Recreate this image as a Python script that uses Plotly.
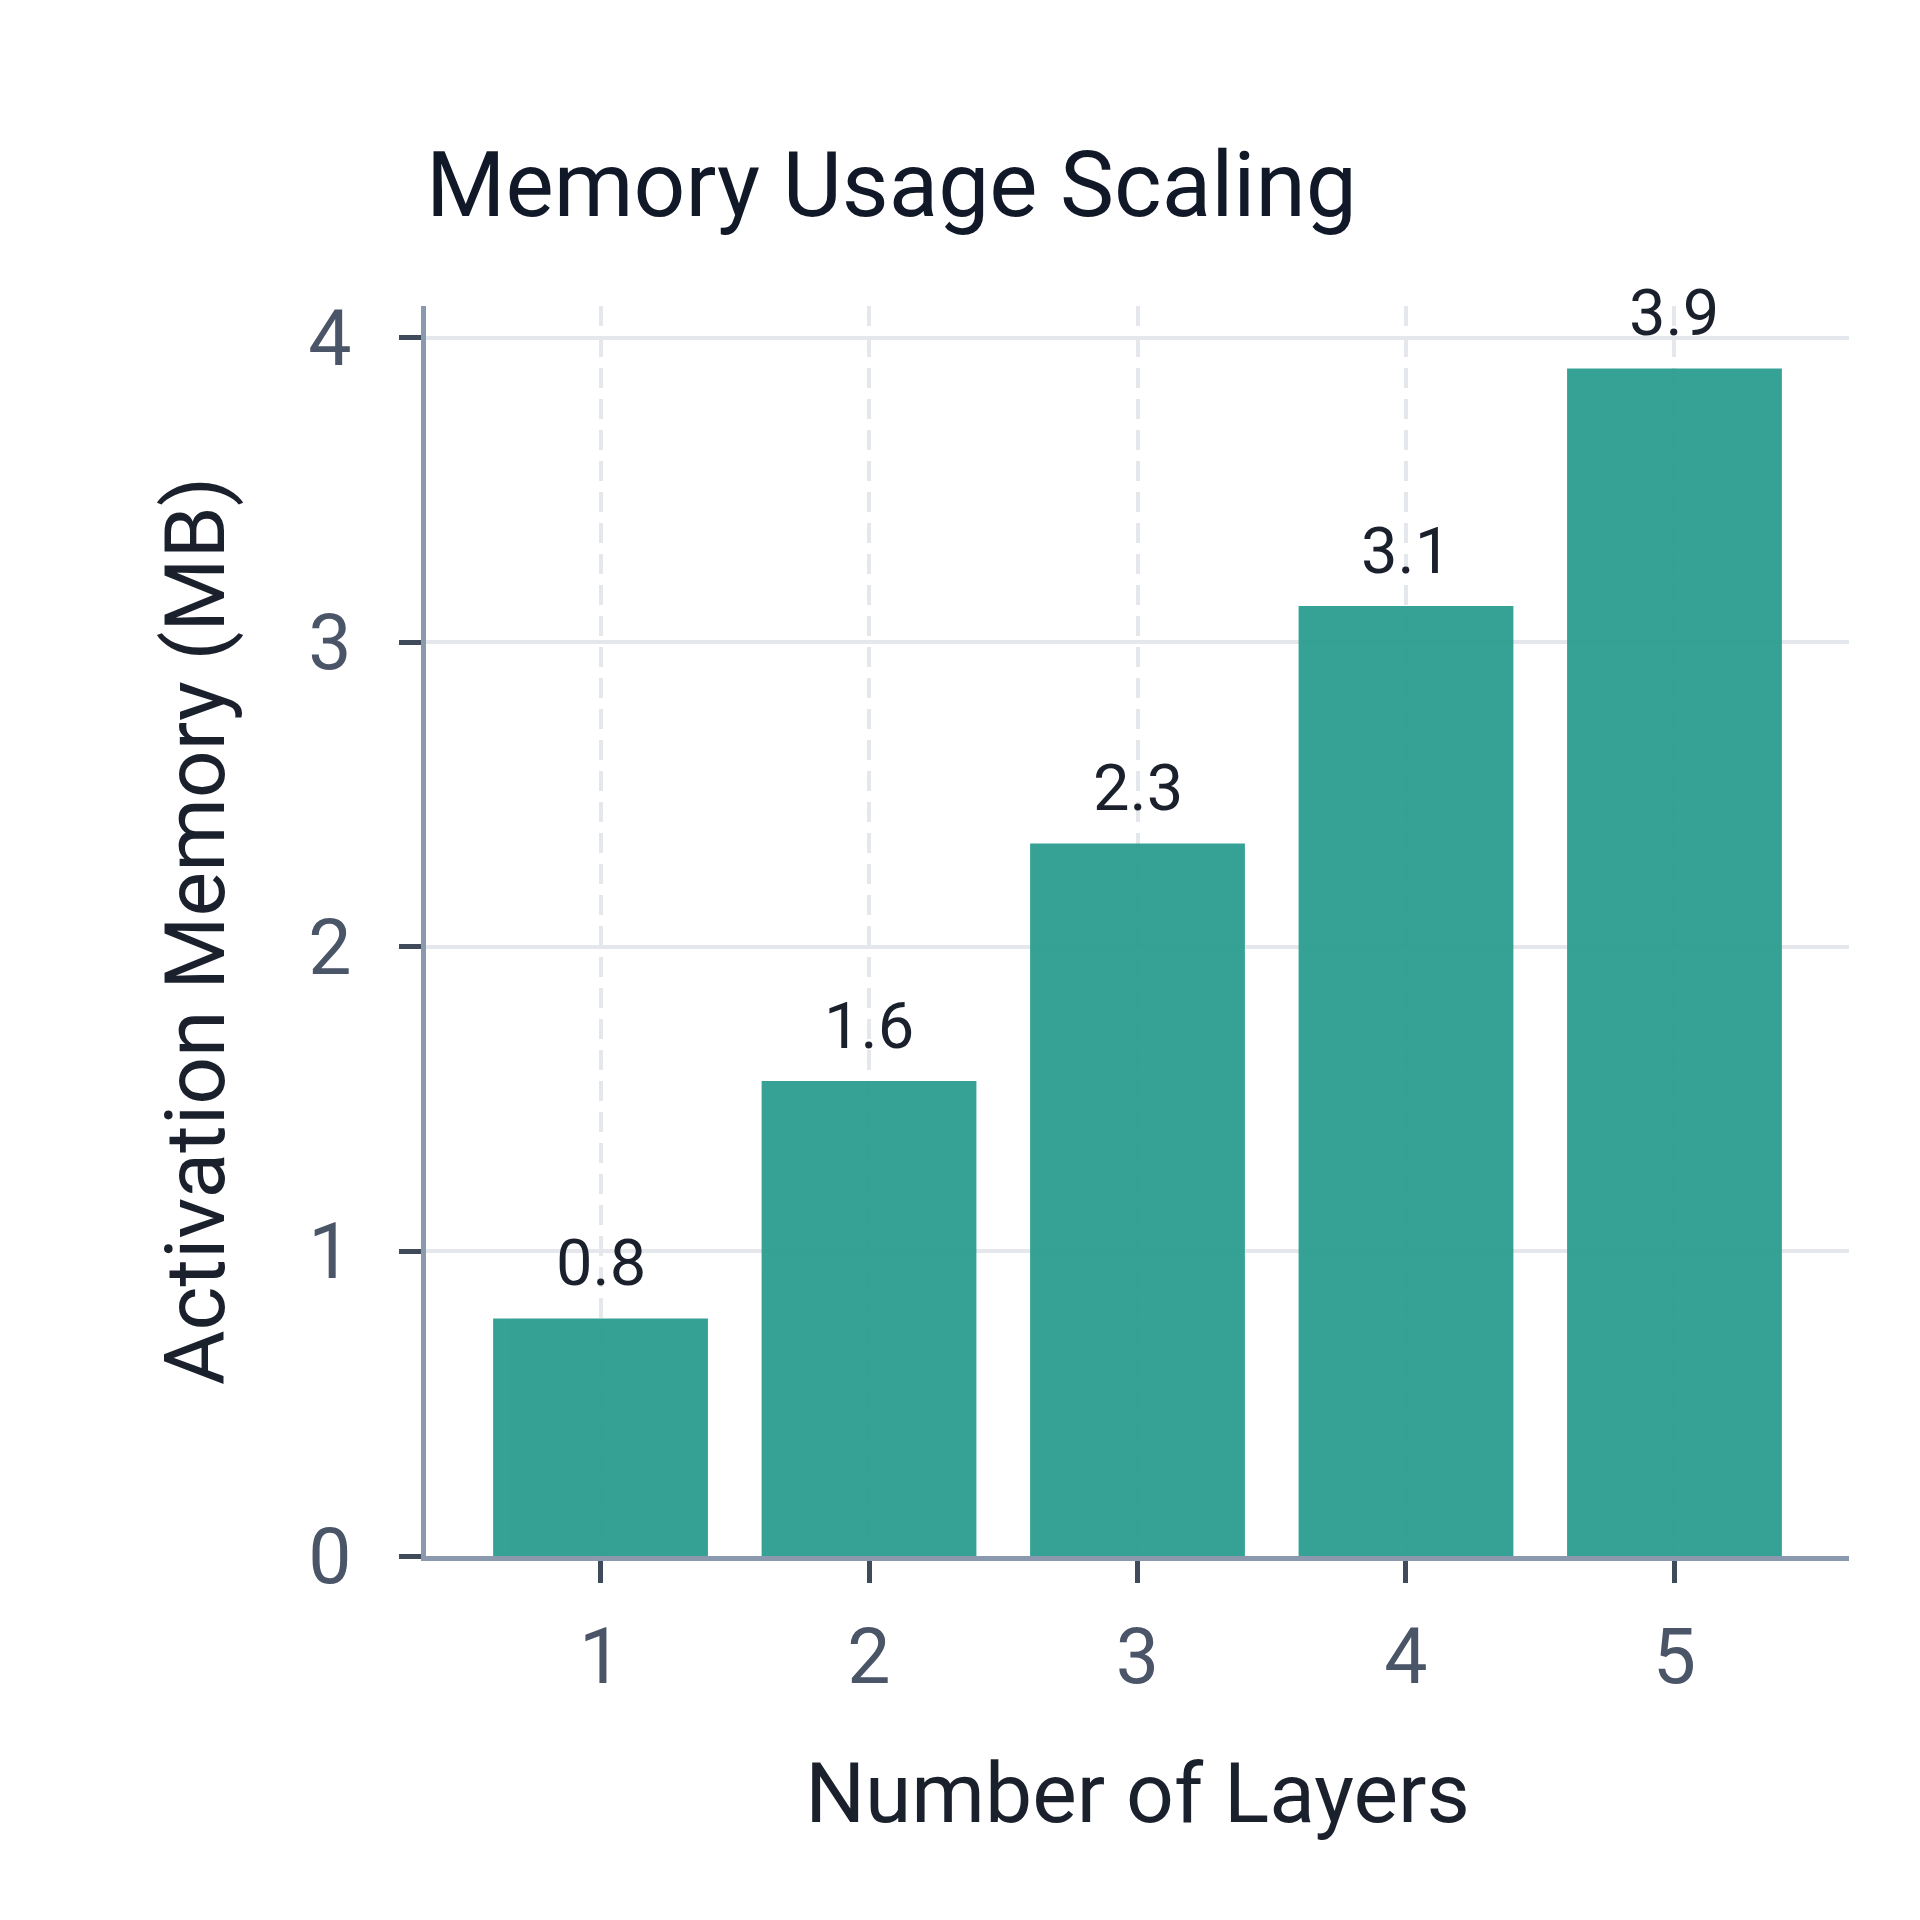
import plotly.graph_objects as go

# data
layers = [1, 2, 3, 4, 5]
memory_mb = [0.78, 1.56, 2.34, 3.12, 3.90]
y_ticks = [0, 1, 2, 3, 4]

FONT = "Roboto, Noto Sans, sans-serif"
BAR_COLOR = "#2A9D8F"
AXIS_LINE = "#8a99ad"
TICK_COLOR = "#3f4b5b"
GRID = "#e4e7ec"
TICK_TEXT = "#4a5568"
DARK_TEXT = "#1a202c"

fig = go.Figure()
fig.add_trace(go.Bar(
    x=layers,
    y=memory_mb,
    width=0.8,
    marker=dict(color=BAR_COLOR, line=dict(width=0)),
    opacity=0.95,
))

# value labels above the bars
for x, y in zip(layers, memory_mb):
    fig.add_annotation(
        x=x, y=y, xref="x", yref="y",
        text=f"{y:.1f}",
        showarrow=False,
        yanchor="bottom",
        yshift=15,
        font=dict(family=FONT, size=65, color=DARK_TEXT),
    )

fig.update_layout(
    width=1920,
    height=1920,
    margin=dict(l=418, r=79, t=298, b=372),
    paper_bgcolor="white",
    plot_bgcolor="white",
    showlegend=False,
    font=dict(family=FONT, color=DARK_TEXT),
    title=dict(
        text="Memory Usage Scaling",
        font=dict(family=FONT, size=91, color="#111827"),
        x=0, xref="paper", xanchor="left",
        y=1 - 176 / 1920, yref="container", yanchor="middle",
    ),
    xaxis=dict(
        range=[0.35, 5.65],
        tickvals=layers,
        showline=True, linecolor=AXIS_LINE, linewidth=5,
        ticks="outside", ticklen=22, tickwidth=5, tickcolor=TICK_COLOR,
        tickfont=dict(family=FONT, size=77, color=TICK_TEXT),
        ticklabelstandoff=8,
        showgrid=True, gridcolor=GRID, gridwidth=4, griddash="20px,11px",
        zeroline=False,
        title=dict(text="Number of Layers", font=dict(family=FONT, size=84, color=DARK_TEXT), standoff=63),
    ),
    yaxis=dict(
        range=[0, 4.105],
        tickvals=y_ticks,
        showline=True, linecolor=AXIS_LINE, linewidth=5,
        ticks="outside", ticklen=22, tickwidth=5, tickcolor=TICK_COLOR,
        tickfont=dict(family=FONT, size=77, color=TICK_TEXT),
        ticklabelstandoff=32,
        showgrid=True, gridcolor=GRID, gridwidth=4,
        zeroline=False,
        title=dict(text="Activation Memory (MB)", font=dict(family=FONT, size=84, color=DARK_TEXT), standoff=57),
    ),
)

fig.write_html("out.html")
